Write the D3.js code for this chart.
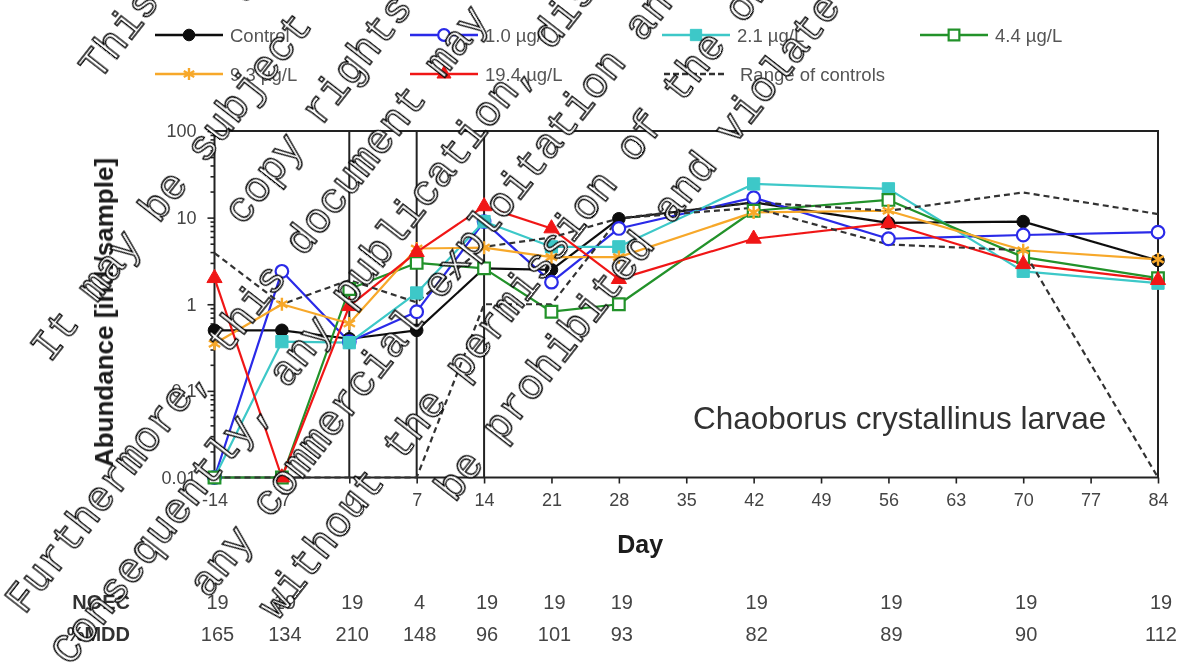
<!DOCTYPE html>
<html>
<head>
<meta charset="utf-8">
<script src="https://cdn.jsdelivr.net/npm/d3@7"></script>
<style>
  html, body { margin: 0; padding: 0; background: #fff; }
  svg { display: block; }
</style>
</head>
<body>
<svg id="chart" width="1185" height="664"></svg>
<script>
// Sampling days and axis ticks
const days = [-14, -7, 0, 7, 14, 21, 28, 42, 56, 70, 84];
const xTickDays = [-14, -7, 0, 7, 14, 21, 28, 35, 42, 49, 56, 63, 70, 77, 84];
const yTickValues = [0.01, 0.1, 1, 10, 100];
const yTickLabels = ["0.01", "0.1", "1", "10", "100"];
const applicationDays = [0, 7, 14];

// Abundance [ind./sample] per treatment
const control  = [0.5, 0.5, 0.4, 0.5, 2.6, 2.5, 9.7, 15, 8.7, 9, 3.2];
const conc1_0  = [0.01, 2.4, 0.37, 0.82, 9, 1.8, 7.5, 17, 5.7, 6.3, 6.8];
const conc2_1  = [0.01, 0.37, 0.36, 1.35, 9, 4.6, 4.6, 24.5, 21.5, 2.4, 1.75];
const conc4_4  = [0.01, 0.01, 1.5, 3.0, 2.6, 0.82, 1.0, 12, 16, 3.5, 2.0];
const conc9_3  = [0.35, 1.0, 0.6, 4.4, 4.5, 3.5, 3.5, 11.5, 12, 4.2, 3.3];
const conc19_4 = [2.0, 0.01, 0.95, 4.0, 13.5, 7.5, 1.95, 5.7, 8.6, 2.9, 1.9];

// Range of controls (upper and lower bound)
const rangeHigh = [3.9, 1.0, 1.9, 1.05, 4.6, 5.9, 9.8, 15, 12, 19.5, 11];
const rangeLow  = [0.01, 0.01, 0.01, 0.01, 1.0, 1.0, 9.8, 13, 4.9, 4.2, 0.01];

// Statistics table below the chart
const noecValues = [19, 19, 19, 4, 19, 19, 19, 19, 19, 19, 19];
const mddValues  = [165, 134, 210, 148, 96, 101, 93, 82, 89, 90, 112];

const seriesNames = ["Control", "1.0 \u00b5g/L", "2.1 \u00b5g/L", "4.4 \u00b5g/L", "9.3 \u00b5g/L", "19.4 \u00b5g/L"];
const seriesValues = [control, conc1_0, conc2_1, conc4_4, conc9_3, conc19_4];

// Notice printed across the page
const noticeLines = [
  "This document is the property of Bayer AG",
  "and/or any of its affiliates.",
  "It may be subject to rights such as intellectual property and",
  "copy rights of the owner and third parties.",
  "Furthermore, this document may fall under a regulatory data protection regime.",
  "Consequently, any publication, distribution, reproduction and/or publishing and",
  "any commercial exploitation and use of this document or its contents",
  "without the permission of the owner of this document may therefore",
  "be prohibited and violate the rights of its owner."
];

// ---- styling ----
const styles = [
  { color: "#111111", symbol: d3.symbolCircle,   size: 125, fill: true },
  { color: "#2a2ae8", symbol: d3.symbolCircle,   size: 125, fill: false },
  { color: "#3cc8c8", symbol: d3.symbolSquare,   size: 150, fill: true },
  { color: "#22922a", symbol: d3.symbolSquare,   size: 135, fill: false },
  { color: "#f7a82a", symbol: d3.symbolAsterisk, size: 120, fill: false, stroke: true },
  { color: "#f01818", symbol: d3.symbolTriangle, size: 100, fill: true }
];
const font = "'Liberation Sans', Arial, Helvetica, sans-serif";
const axisColor = "#222";
const textColor = "#444";

const svg = d3.select("#chart");
svg.append("rect").attr("width", 1185).attr("height", 664).attr("fill", "#fff");

// the chart itself is slightly soft
const defs = svg.append("defs");
defs.append("filter").attr("id", "soft")
  .attr("x", "-5%").attr("y", "-5%").attr("width", "110%").attr("height", "110%")
  .append("feGaussianBlur").attr("stdDeviation", 0.5);

const plot = { left: 214.5, right: 1158, top: 131, bottom: 477.5 };
const x = d3.scaleLinear().domain([-14, 84]).range([plot.left, plot.right]);
const y = d3.scaleLog().domain([0.01, 100]).range([plot.bottom, plot.top]);

const chart = svg.append("g").attr("class", "chart").attr("filter", "url(#soft)");

// ---- axes ----
const xAxis = d3.axisBottom(x)
  .tickValues(xTickDays)
  .tickSize(6)
  .tickPadding(10)
  .tickFormat(d => String(d));
const gx = chart.append("g").attr("transform", `translate(0,${plot.bottom})`).call(xAxis);

const yAxis = d3.axisLeft(y)
  .tickValues(yTickValues)
  .tickSize(7)
  .tickPadding(11)
  .tickFormat((d, i) => yTickLabels[i]);
const gy = chart.append("g").attr("transform", `translate(${plot.left},0)`).call(yAxis);

const minorTicks = [];
yTickValues.slice(0, -1).forEach(v => { for (let k = 2; k <= 9; k++) minorTicks.push(v * k); });
const gyMinor = chart.append("g").attr("transform", `translate(${plot.left},0)`)
  .call(d3.axisLeft(y).tickValues(minorTicks).tickSize(4).tickFormat(""));

[gx, gy, gyMinor].forEach(g => {
  g.select(".domain").remove();
  g.selectAll(".tick line").attr("stroke", axisColor).attr("stroke-width", 1.6);
  g.selectAll(".tick text")
    .attr("fill", textColor)
    .style("font-family", font)
    .style("font-size", "18px");
});

// frame and application-day lines
chart.append("rect")
  .attr("x", plot.left).attr("y", plot.top)
  .attr("width", plot.right - plot.left).attr("height", plot.bottom - plot.top)
  .attr("fill", "none").attr("stroke", axisColor).attr("stroke-width", 2);
chart.selectAll("line.app").data(applicationDays).join("line")
  .attr("class", "app")
  .attr("x1", d => x(d)).attr("x2", d => x(d))
  .attr("y1", plot.top).attr("y2", plot.bottom)
  .attr("stroke", axisColor).attr("stroke-width", 2);

// axis titles
chart.append("text")
  .attr("x", (plot.left + plot.right) / 2 - 46).attr("y", 553)
  .attr("text-anchor", "middle")
  .style("font-family", font).style("font-size", "25px").style("font-weight", "bold")
  .attr("fill", "#1a1a1a")
  .text("Day");
chart.append("text")
  .attr("transform", `translate(113,${(157 + 468) / 2}) rotate(-90)`)
  .attr("text-anchor", "middle")
  .style("font-family", font).style("font-size", "26px").style("font-weight", "bold")
  .attr("fill", "#1a1a1a")
  .text("Abundance [ind./sample]");

// species label inside the plot
chart.append("text")
  .attr("x", 693).attr("y", 429)
  .style("font-family", font).style("font-size", "31.5px")
  .attr("fill", "#333")
  .text("Chaoborus crystallinus larvae");

// ---- data lines ----
const line = d3.line().x(d => x(d.day)).y(d => y(d.v));
const toPoints = vals => vals.map((v, i) => ({ day: days[i], v }));

const lineLayer = chart.append("g");
seriesValues.forEach((vals, i) => {
  lineLayer.append("path")
    .datum(toPoints(vals))
    .attr("d", line)
    .attr("fill", "none")
    .attr("stroke", styles[i].color)
    .attr("stroke-width", 2.2)
    .attr("stroke-linejoin", "round");
});

// range of controls (dashed)
[rangeHigh, rangeLow].forEach(vals => {
  lineLayer.append("path")
    .datum(toPoints(vals))
    .attr("d", line)
    .attr("fill", "none")
    .attr("stroke", "#333")
    .attr("stroke-width", 2.2)
    .attr("stroke-dasharray", "6,4");
});

// ---- markers ----
function drawMarker(sel, st, size) {
  const p = sel.append("path").attr("d", d3.symbol().type(st.symbol).size(size || st.size)());
  if (st.stroke) {
    p.attr("fill", "none").attr("stroke", st.color).attr("stroke-width", 2.4);
  } else if (st.fill) {
    p.attr("fill", st.color).attr("stroke", st.color).attr("stroke-width", 1);
  } else {
    p.attr("fill", "#fff").attr("stroke", st.color).attr("stroke-width", 2.2);
  }
  return p;
}
const markerLayer = chart.append("g");
seriesValues.forEach((vals, i) => {
  toPoints(vals).forEach(pt => {
    const g = markerLayer.append("g").attr("transform", `translate(${x(pt.day)},${y(pt.v)})`);
    drawMarker(g, styles[i]);
  });
});

// ---- legend ----
const legendCols = [155, 410, 662, 920];
const legendRows = [35, 74];
const legendItems = seriesNames.map((name, i) => ({ name, style: styles[i] }));
legendItems.push({ name: "Range of controls", dashed: true });
const legend = chart.append("g");
legendItems.forEach((item, i) => {
  const col = i < 4 ? i : i - 4;
  const row = i < 4 ? 0 : 1;
  const lx = legendCols[col];
  const ly = legendRows[row];
  const g = legend.append("g").attr("transform", `translate(${lx},${ly})`);
  if (item.dashed) {
    g.append("line").attr("x1", 2).attr("x2", 62).attr("y1", 0).attr("y2", 0)
      .attr("stroke", "#333").attr("stroke-width", 2.4).attr("stroke-dasharray", "6,3");
    g.append("text").attr("x", 78).attr("y", 6.5)
      .style("font-family", font).style("font-size", "18.5px")
      .attr("fill", "#555").text(item.name);
  } else {
    g.append("line").attr("x1", 0).attr("x2", 68).attr("y1", 0).attr("y2", 0)
      .attr("stroke", item.style.color).attr("stroke-width", 2.4);
    const m = g.append("g").attr("transform", "translate(34,0)");
    drawMarker(m, item.style, item.style.size * 0.85);
    g.append("text").attr("x", 75).attr("y", 6.5)
      .style("font-family", font).style("font-size", "18.5px")
      .attr("fill", "#555").text(item.name);
  }
});

// ---- statistics table ----
const table = chart.append("g");
const tableRows = [
  { label: "NOEC", values: noecValues, y: 609 },
  { label: "%MDD", values: mddValues, y: 641 }
];
tableRows.forEach(r => {
  table.append("text").attr("x", 130).attr("y", r.y).attr("text-anchor", "end")
    .style("font-family", font).style("font-size", "20px").style("font-weight", "bold")
    .attr("fill", "#333").text(r.label);
  r.values.forEach((v, i) => {
    table.append("text").attr("x", x(days[i]) + 3).attr("y", r.y).attr("text-anchor", "middle")
      .style("font-family", font).style("font-size", "20px")
      .attr("fill", textColor).text(v);
  });
});

// ---- diagonal notice across the page ----
const notice = svg.append("g")
  .attr("transform", "translate(416.9,-325.4) rotate(-52)");
noticeLines.forEach((t, i) => {
  notice.append("text")
    .attr("x", 0).attr("y", i * 67.5)
    .attr("text-anchor", "middle")
    .style("font-family", "'Liberation Mono', 'Courier New', monospace")
    .style("font-size", "42px")
    .attr("fill", "#fff")
    .attr("stroke", "#000")
    .attr("stroke-width", 1.35)
    .text(t);
});
</script>
</body>
</html>
